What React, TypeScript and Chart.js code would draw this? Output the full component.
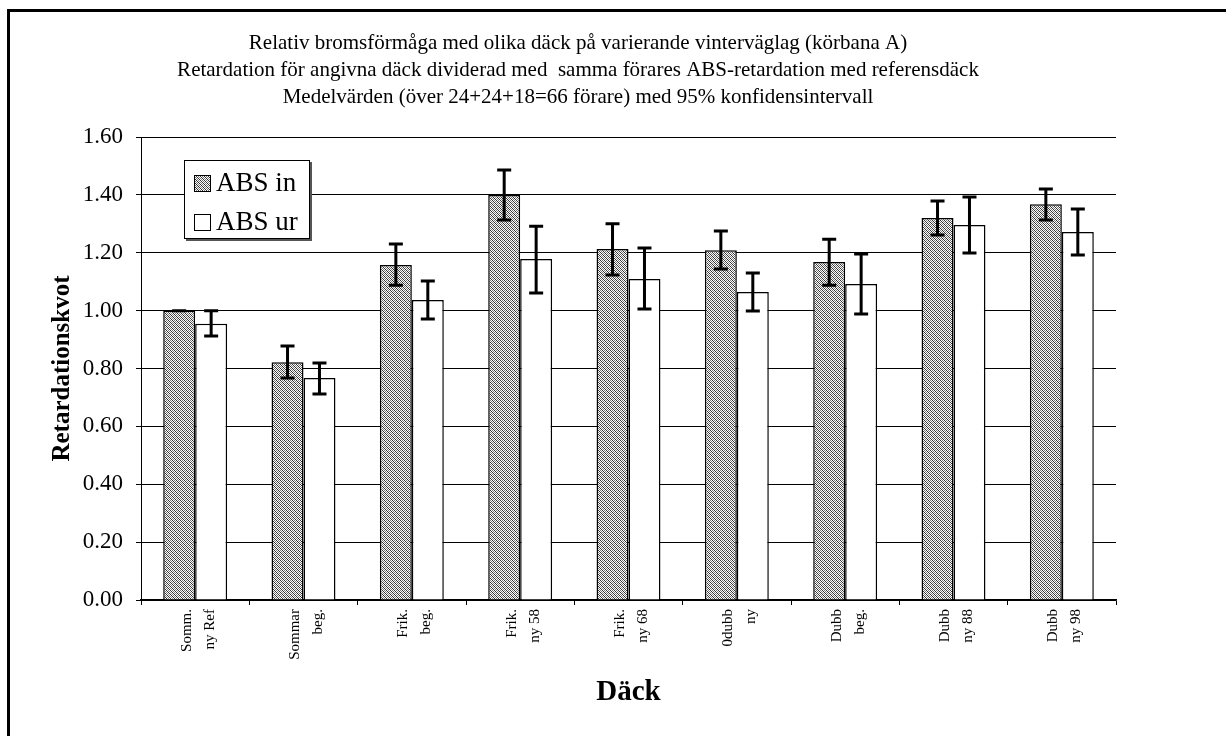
import React, { useEffect, useRef } from "react";
import { Chart, registerables } from "chart.js";

Chart.register(...registerables);

const categories: string[][] = [
  ["Somm.", "ny Ref"],
  ["Sommar", "beg."],
  ["Frik.", "beg."],
  ["Frik.", "ny 58"],
  ["Frik.", "ny 68"],
  ["0dubb", "ny"],
  ["Dubb", "beg."],
  ["Dubb", "ny 88"],
  ["Dubb", "ny 98"],
];

const absInValues = [1.0, 0.822, 1.158, 1.4, 1.213, 1.209, 1.168, 1.32, 1.368];
const absInLow = [1.0, 0.767, 1.088, 1.313, 1.123, 1.144, 1.088, 1.261, 1.313];
const absInHigh = [1.0, 0.878, 1.23, 1.486, 1.3, 1.275, 1.247, 1.379, 1.42];

const absUrValues = [0.955, 0.767, 1.037, 1.178, 1.109, 1.064, 1.092, 1.296, 1.272];
const absUrLow = [0.912, 0.712, 0.971, 1.061, 1.006, 0.999, 0.988, 1.199, 1.192];
const absUrHigh = [1.0, 0.819, 1.102, 1.292, 1.216, 1.13, 1.196, 1.393, 1.351];

const seriesNames = ["ABS in", "ABS ur"];

const titleLines = [
  "Relativ bromsförmåga med olika däck på varierande vinterväglag (körbana A)",
  "Retardation för angivna däck dividerad med  samma förares ABS-retardation med referensdäck",
  "Medelvärden (över 24+24+18=66 förare) med 95% konfidensintervall",
];

const yTitle = "Retardationskvot";
const xTitle = "Däck";

const FONT = "'Liberation Serif', 'Times New Roman', serif";

function makeHatch(): CanvasPattern | string {
  const c = document.createElement("canvas");
  c.width = 4;
  c.height = 4;
  const g = c.getContext("2d");
  if (!g) return "#aaa";
  const img = g.createImageData(4, 4);
  for (let y = 0; y < 4; y++) {
    for (let x = 0; x < 4; x++) {
      const m = (((x - y) % 4) + 4) % 4;
      const v = m === 0 ? 50 : m === 2 ? 120 : 255;
      const i = (y * 4 + x) * 4;
      img.data[i] = v;
      img.data[i + 1] = v;
      img.data[i + 2] = v;
      img.data[i + 3] = 255;
    }
  }
  g.putImageData(img, 0, 0);
  return g.createPattern(c, "repeat") || "#aaa";
}

export default function App() {
  const ref = useRef<HTMLCanvasElement | null>(null);

  useEffect(() => {
    if (!ref.current) return;
    const hatch = makeHatch();

    const framePlugin = {
      id: "frame",
      beforeDraw(chart: any) {
        const ctx = chart.ctx;
        ctx.save();
        ctx.fillStyle = "#fff";
        ctx.fillRect(0, 0, chart.width, chart.height);
        ctx.strokeStyle = "#000";
        ctx.lineWidth = 3;
        ctx.strokeRect(8.5, 10.5, 3000, 3000);
        ctx.restore();
      },
    };

    const errorPlugin = {
      id: "errbars",
      afterDatasetsDraw(chart: any) {
        const ctx = chart.ctx;
        const ys = chart.scales.y;
        const sets = [
          [absInLow, absInHigh],
          [absUrLow, absUrHigh],
        ];
        ctx.save();
        ctx.strokeStyle = "#000";
        ctx.lineWidth = 3;
        ctx.lineCap = "butt";
        sets.forEach(([lo, hi], di) => {
          const meta = chart.getDatasetMeta(di);
          meta.data.forEach((bar: any, i: number) => {
            const x = bar.x;
            const yl = ys.getPixelForValue(lo[i]);
            const yh = ys.getPixelForValue(hi[i]);
            ctx.beginPath();
            ctx.moveTo(x, yl);
            ctx.lineTo(x, yh);
            ctx.moveTo(x - 7, yl);
            ctx.lineTo(x + 7, yl);
            ctx.moveTo(x - 7, yh);
            ctx.lineTo(x + 7, yh);
            ctx.stroke();
          });
        });
        ctx.restore();
      },
    };

    const legendPlugin = {
      id: "boxlegend",
      afterDraw(chart: any) {
        const ctx = chart.ctx;
        const bx = 184, by = 160, bw = 126, bh = 79;
        ctx.save();
        ctx.fillStyle = "#555";
        ctx.fillRect(bx + 2, by + 2, bw, bh);
        ctx.fillStyle = "#fff";
        ctx.fillRect(bx, by, bw, bh);
        ctx.strokeStyle = "#000";
        ctx.lineWidth = 1;
        ctx.strokeRect(bx + 0.5, by + 0.5, bw - 1, bh - 1);
        const rows = [
          { fill: hatch, cy: 183 },
          { fill: "#fff", cy: 222 },
        ];
        rows.forEach((r, i) => {
          ctx.fillStyle = r.fill as any;
          ctx.fillRect(194, r.cy - 8, 17, 17);
          ctx.strokeStyle = "#000";
          ctx.lineWidth = 1;
          ctx.strokeRect(194.5, r.cy - 7.5, 16, 16);
          ctx.fillStyle = "#000";
          ctx.font = `27px ${FONT}`;
          ctx.textBaseline = "middle";
          ctx.textAlign = "left";
          ctx.fillText(seriesNames[i], 216, r.cy + 1);
        });
        ctx.restore();
      },
    };

    const chart = new Chart(ref.current, {
      type: "bar",
      data: {
        labels: categories,
        datasets: [
          {
            label: seriesNames[0],
            data: absInValues,
            backgroundColor: hatch as any,
            borderColor: "#000",
            borderWidth: 1.5,
            categoryPercentage: 0.59,
            barPercentage: 1.0,
          },
          {
            label: seriesNames[1],
            data: absUrValues,
            backgroundColor: "#fff",
            borderColor: "#000",
            borderWidth: 1.5,
            categoryPercentage: 0.59,
            barPercentage: 1.0,
          },
        ],
      },
      options: {
        animation: false,
        responsive: false,
        maintainAspectRatio: false,
        layout: { padding: { left: 40, right: 110, top: 0, bottom: 0 } },
        plugins: {
          legend: { display: false },
          tooltip: { enabled: false },
          title: {
            display: true,
            text: titleLines,
            color: "#000",
            font: { family: FONT, size: 21, weight: "normal", lineHeight: 27 / 21 },
            padding: { top: 29.5, bottom: 26.5 },
          },
        },
        scales: {
          x: {
            offset: true,
            grid: {
              display: true,
              offset: true,
              drawOnChartArea: false,
              drawTicks: true,
              tickLength: 5,
              color: "#000",
            },
            border: { display: true, color: "#000", width: 1.5 },
            ticks: {
              color: "#000",
              autoSkip: false,
              maxRotation: 90,
              minRotation: 90,
              padding: 4,
              labelOffset: -8.5,
              font: { family: FONT, size: 15, lineHeight: 23 / 15 },
            },
            title: {
              display: true,
              text: xTitle,
              color: "#000",
              font: { family: FONT, size: 29, weight: "bold", lineHeight: 1.2 },
              padding: { top: 0, bottom: 26 },
            },
            afterFit(s: any) {
              s.height = 136;
            },
          },
          y: {
            min: 0,
            max: 1.6,
            grid: {
              color: "#000",
              lineWidth: 1,
              drawTicks: true,
              tickLength: 5,
            },
            border: { display: true, color: "#000", width: 1 },
            ticks: {
              stepSize: 0.2,
              color: "#000",
              padding: 13,
              font: { family: FONT, size: 23 },
              callback: (v: any) => Number(v).toFixed(2),
            },
            title: {
              display: true,
              text: yTitle,
              color: "#000",
              font: { family: FONT, size: 25, weight: "bold", lineHeight: 1.2 },
              padding: { top: 8, bottom: 0 },
            },
            afterFit(s: any) {
              s.width = 101;
            },
          },
        },
      },
      plugins: [framePlugin, errorPlugin, legendPlugin],
    });

    return () => chart.destroy();
  }, []);

  return (
    <div style={{ position: "absolute", left: 0, top: 0, width: 1226, height: 736 }}>
      <canvas ref={ref} width={1226} height={736} style={{ display: "block" }} />
    </div>
  );
}
